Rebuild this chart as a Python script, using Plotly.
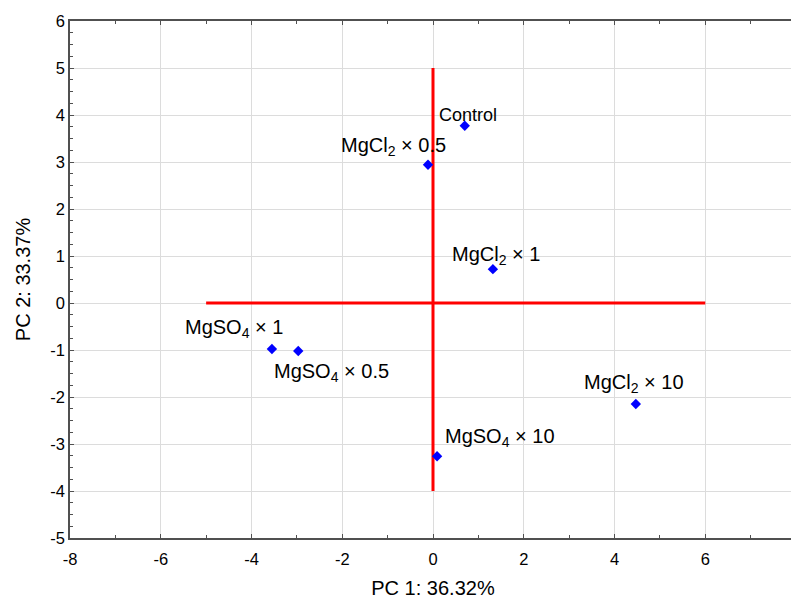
import plotly.graph_objects as go

labels = ["Control", "MgCl<sub>2</sub> × 0.5", "MgCl<sub>2</sub> × 1", "MgSO<sub>4</sub> × 1",
          "MgSO<sub>4</sub> × 0.5", "MgCl<sub>2</sub> × 10", "MgSO<sub>4</sub> × 10"]
pc1 = [0.70, -0.11, 1.32, -3.55, -2.97, 4.47, 0.09]
pc2 = [3.77, 2.94, 0.72, -0.98, -1.02, -2.15, -3.26]

hline_x = [-5, 6]
hline_y = [0, 0]
vline_x = [0, 0]
vline_y = [-4, 5]

x_ticks = [-8, -6, -4, -2, 0, 2, 4, 6, 8]
y_ticks = [-5, -4, -3, -2, -1, 0, 1, 2, 3, 4, 5, 6]

fig = go.Figure()
fig.add_trace(go.Scatter(x=hline_x, y=hline_y, mode="lines", line=dict(color="#ff0000", width=3), showlegend=False))
fig.add_trace(go.Scatter(x=vline_x, y=vline_y, mode="lines", line=dict(color="#ff0000", width=3), showlegend=False))
fig.add_trace(go.Scatter(x=pc1, y=pc2, mode="markers",
                         marker=dict(symbol="diamond", color="#0000ff", size=8),
                         showlegend=False))

# label offsets in pixels (xshift, yshift, xanchor, font size)
offsets = [(-28, 11, "left", 18), (20, 18, "right", 20), (-43, 14, "left", 20),
           (13, 21, "right", 20), (-26, -22, "left", 20), (-54, 21, "left", 20),
           (6, 19, "left", 20)]
for lab, x, y, (dx, dy, anc, fs) in zip(labels, pc1, pc2, offsets):
    fig.add_annotation(x=x, y=y, text=lab, showarrow=False, xanchor=anc, yanchor="middle",
                       xshift=dx, yshift=dy, font=dict(size=fs, color="black"))

axis_common = dict(showgrid=True, gridcolor="#dcdcdc", gridwidth=1, zeroline=False,
                   showline=True, linecolor="#505050", linewidth=1.5, mirror="allticks",
                   ticks="inside", ticklen=4, tickcolor="#505050", automargin=False,
                   ticklabeloverflow="allow",
                   tickfont=dict(size=16.5, color="black"))

fig.update_xaxes(range=[-8, 8], tickvals=x_ticks, ticktext=[str(v) for v in x_ticks],
                 minor=dict(dtick=1, ticks="inside", ticklen=3, tickcolor="#505050", showgrid=False),
                 ticklabelstandoff=5,
                 title=dict(text="PC 1: 36.32%", font=dict(size=20, color="black"), standoff=17),
                 **axis_common)
fig.update_yaxes(range=[-5, 6], tickvals=y_ticks, ticktext=[str(v) for v in y_ticks],
                 minor=dict(dtick=0.25, ticks="inside", ticklen=3, tickcolor="#505050", showgrid=False),
                 title=dict(text="PC 2: 33.37%", font=dict(size=20, color="black"), standoff=14),
                 **axis_common)

# page body has an 8px margin; figure sized so plot area sits where the reference has it
fig.update_layout(width=791, height=591, margin=dict(l=62, r=3, t=13, b=61),
                  plot_bgcolor="white", paper_bgcolor="white",
                  font=dict(family="Liberation Sans, Arial, sans-serif", color="black"))

fig.write_html("out.html")
